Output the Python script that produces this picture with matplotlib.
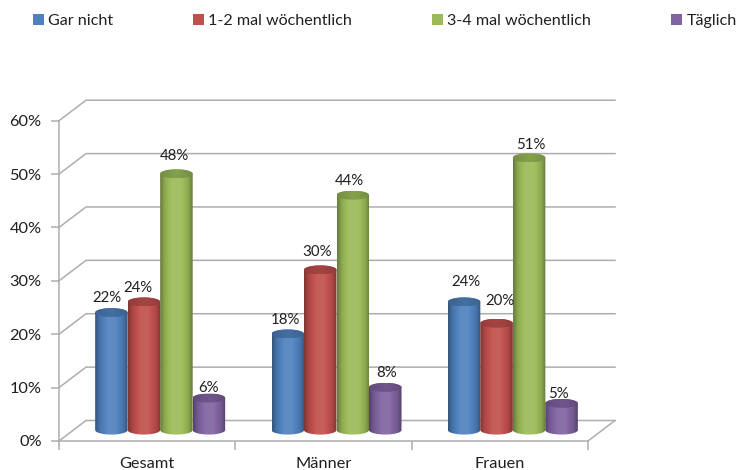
import numpy as np
import matplotlib
matplotlib.use("Agg")
import matplotlib.pyplot as plt
from matplotlib.patches import PathPatch, Patch
from matplotlib.path import Path
from matplotlib.colors import to_rgb

plt.rcParams['font.family'] = ['Lato', 'DejaVu Sans']

categories = ["Gesamt", "Männer", "Frauen"]
series_names = ["Gar nicht", "1-2 mal wöchentlich", "3-4 mal wöchentlich", "Täglich"]
gar_nicht = [22, 18, 24]
ein_zwei = [24, 30, 20]
drei_vier = [48, 44, 51]
taeglich = [6, 8, 5]
y_ticks = [0, 10, 20, 30, 40, 50, 60]

colors = ["#4f81bd", "#c0504d", "#9bbb59", "#8064a2"]
grid_color = "#adadad"
text_color = "#1f1f1f"

# Label nudges relative to each cylinder's top, in pixels (series by category)
label_dx = [[-5, -2, 1.5], [-6, -3, 3], [-1.5, -3, 2], [0, 1, -3.5]]
label_dy = [[14.6, 14, 20], [14, 18, 22], [18, 14, 13], [10, 14, 9]]

W, H = 736, 470
fig = plt.figure(figsize=(W / 100, H / 100), dpi=100)
ax = fig.add_axes([59 / W, 1 - 441 / H, 529 / W, 320.3 / H])
ax.set_xlim(0, 3)
ax.set_ylim(0, 60)

px_x = 3 / 529
px_y = 60 / 320.3
depth_x = 27 * px_x
depth_y = 20.5 * px_y
bar_w = 32.5 * px_x
ell_h = 4.5 * px_y

# Walls and floor of the 3D box
for v in y_ticks:
    ax.plot([0, depth_x, 3 + depth_x], [v, v + depth_y, v + depth_y],
            color=grid_color, lw=1.1, clip_on=False, zorder=1)
ax.plot([3, 3 + depth_x], [0, depth_y], color=grid_color, lw=1.1, clip_on=False, zorder=1)

for side in ("top", "right"):
    ax.spines[side].set_visible(False)
for side in ("left", "bottom"):
    ax.spines[side].set_color(grid_color)
    ax.spines[side].set_linewidth(1.1)
    ax.spines[side].set_zorder(1)

ax.set_yticks(y_ticks)
ax.set_yticklabels([f"{v}%" for v in y_ticks])
ax.set_xticks([0, 1, 2, 3])
ax.set_xticklabels([])
ax.set_xticks([0.5, 1.5, 2.5], minor=True)
ax.set_xticklabels(categories, minor=True)
ax.tick_params(axis="y", length=6, width=1.1, color=grid_color, labelsize=11.8,
               labelcolor=text_color, pad=6.5)
ax.tick_params(axis="x", which="major", length=6.5, width=1.1, color=grid_color)
ax.tick_params(axis="x", which="minor", length=0, labelsize=11.8, labelcolor=text_color, pad=11.5)


def shade(color, stops, factors):
    """Horizontal gradient across a cylinder, as a 1-row RGB image."""
    t = np.linspace(0, 1, 64)
    f = np.interp(t, stops, factors)
    rgb = np.array(to_rgb(color))
    row = np.where(f[:, None] <= 1, rgb * f[:, None],
                   rgb + (1 - rgb) * (f[:, None] - 1))
    return row[None, :, :]


def half_ellipse(cx, cy, rx, ry, a0, a1, n=40):
    a = np.linspace(a0, a1, n)
    return np.column_stack([cx + rx * np.cos(a), cy + ry * np.sin(a)])


def cylinder(cx, base, value, color, z):
    rx = bar_w / 2
    top = base + value
    pts = np.vstack([half_ellipse(cx, base, rx, ell_h, np.pi, 2 * np.pi),
                     half_ellipse(cx, top, rx, ell_h, 0, np.pi)])
    body = PathPatch(Path(np.vstack([pts, pts[0]])), transform=ax.transData,
                     fc="none", ec="none")
    ax.add_patch(body)
    im = ax.imshow(shade(color, [0, 0.14, 0.38, 0.62, 0.86, 1],
                         [0.66, 0.9, 1.08, 1.08, 0.9, 0.66]),
                   extent=[cx - rx, cx + rx, base - ell_h, top + ell_h],
                   aspect="auto", zorder=z, interpolation="bilinear")
    im.set_clip_path(body)
    cap_pts = half_ellipse(cx, top, rx, ell_h, 0, 2 * np.pi, 80)
    cap = PathPatch(Path(cap_pts), transform=ax.transData, fc="none", ec="none")
    ax.add_patch(cap)
    capim = ax.imshow(shade(color, [0, 0.5, 1], [0.76, 0.86, 0.76]),
                      extent=[cx - rx, cx + rx, top - ell_h, top + ell_h],
                      aspect="auto", zorder=z + 0.5, interpolation="bilinear")
    capim.set_clip_path(cap)


all_series = [gar_nicht, ein_zwei, drei_vier, taeglich]
base_level = 2.05
for c in range(len(categories)):
    for s, values in enumerate(all_series):
        cx = c + 0.5 + depth_x / 2 + (s - 1.5) * bar_w - 0.5 * px_x
        val = values[c]
        cylinder(cx, base_level, val, colors[s], 3 + s)
        ax.text(cx + label_dx[s][c] * px_x,
                base_level + val + label_dy[s][c] * px_y,
                f"{val}%", ha="center", va="center", fontsize=10.8,
                color=text_color, zorder=20)

ax.set_xlim(0, 3)
ax.set_ylim(0, 60)

handles = [Patch(fc=col, ec="none") for col in colors]
fig.legend(handles, series_names, ncol=4, loc="upper left",
           bbox_to_anchor=(33 / W, 1 - 14 / H), bbox_transform=fig.transFigure,
           frameon=False, fontsize=11.6, labelcolor=text_color,
           handlelength=0.68, handleheight=0.68, handletextpad=0.27,
           columnspacing=4.95, borderpad=0, borderaxespad=0)

fig.savefig("out.png", dpi=100)
